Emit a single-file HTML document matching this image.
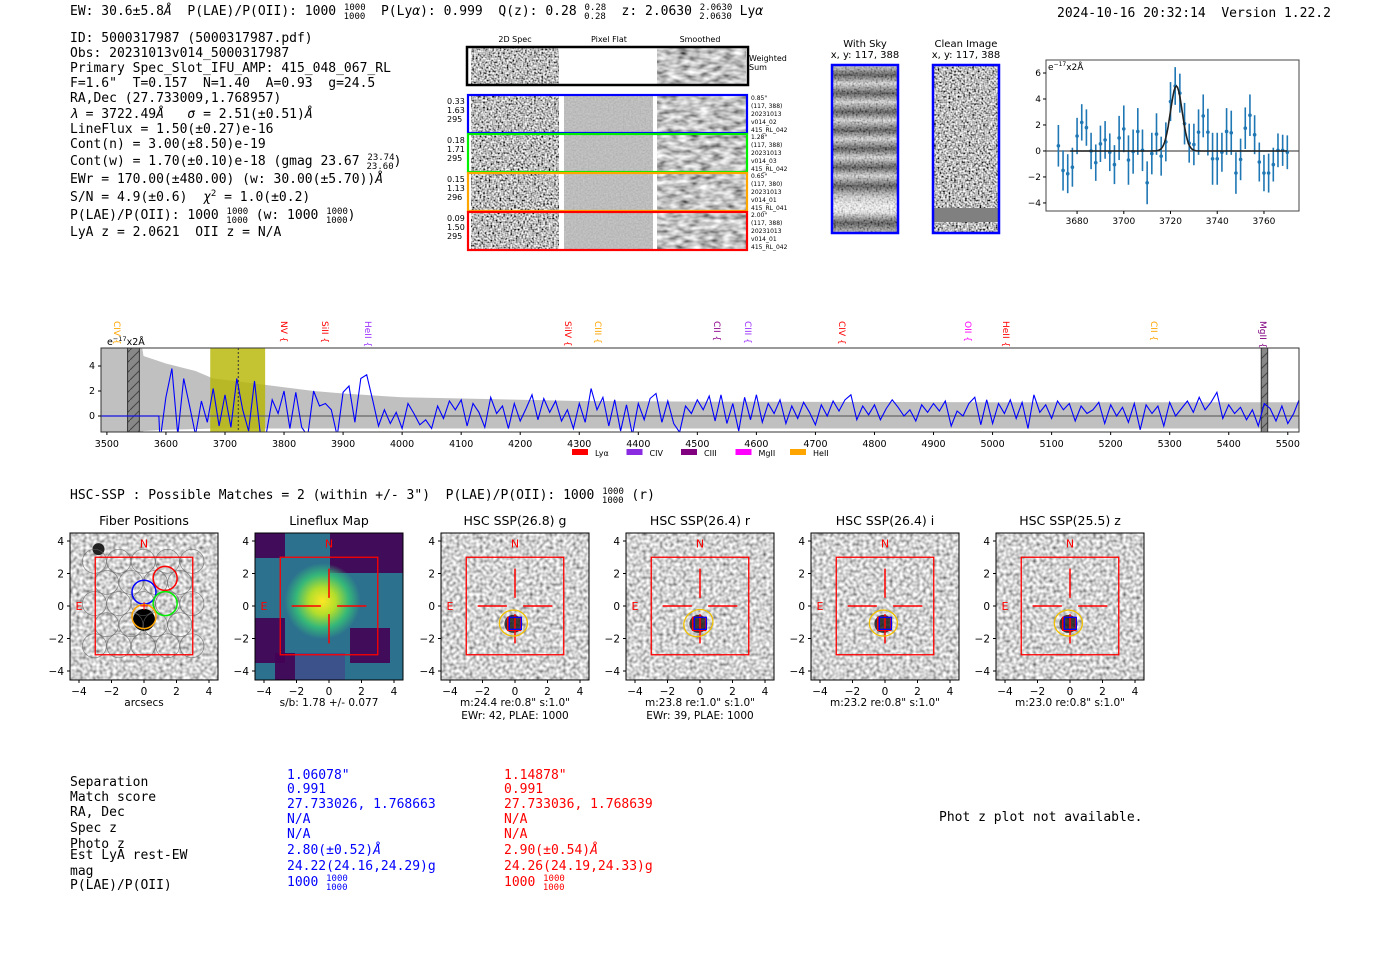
<!DOCTYPE html>
<html><head><meta charset="utf-8"><style>
body{margin:0;background:#fff;}
svg{display:block;}
.m{font-family:"DejaVu Sans Mono","Liberation Mono",monospace;font-size:13px;fill:#000;white-space:pre;}
.s{font-family:"DejaVu Sans","Liberation Sans",sans-serif;}
</style></head><body>
<svg id="root" xmlns="http://www.w3.org/2000/svg" xml:space="preserve" width="1400" height="953" viewBox="0 0 1400 953">
<defs>
<filter id="nz" x="0" y="0" width="1" height="1"><feTurbulence type="fractalNoise" baseFrequency="0.55" numOctaves="1" seed="3"/><feColorMatrix type="matrix" values="2.2 0 0 0 -0.6 2.2 0 0 0 -0.6 2.2 0 0 0 -0.6 0 0 0 0 1"/></filter>
<filter id="nzs" x="0" y="0" width="1" height="1"><feTurbulence type="fractalNoise" baseFrequency="0.09 0.2" numOctaves="2" seed="5"/><feColorMatrix type="matrix" values="1.4 0 0 0 -0.15 1.4 0 0 0 -0.15 1.4 0 0 0 -0.15 0 0 0 0 1"/></filter>
<filter id="nzh" x="0" y="0" width="1" height="1"><feTurbulence type="fractalNoise" baseFrequency="0.3" numOctaves="1" seed="8"/><feColorMatrix type="matrix" values="1.5 0 0 0 -0.1 1.5 0 0 0 -0.1 1.5 0 0 0 -0.1 0 0 0 0 1"/></filter>
<filter id="nzf" x="0" y="0" width="1" height="1"><feTurbulence type="fractalNoise" baseFrequency="0.6" numOctaves="1" seed="11"/><feColorMatrix type="matrix" values="0.25 0 0 0 0.38 0.25 0 0 0 0.38 0.25 0 0 0 0.38 0 0 0 0 1"/></filter>
<linearGradient id="sky" x1="0" y1="0" x2="0" y2="1">
<stop offset="0" stop-color="#ddd"/><stop offset="0.06" stop-color="#333"/><stop offset="0.11" stop-color="#ddd"/><stop offset="0.17" stop-color="#333"/><stop offset="0.22" stop-color="#ddd"/><stop offset="0.28" stop-color="#333"/><stop offset="0.33" stop-color="#ddd"/><stop offset="0.39" stop-color="#333"/><stop offset="0.44" stop-color="#ddd"/><stop offset="0.5" stop-color="#333"/><stop offset="0.55" stop-color="#ddd"/><stop offset="0.61" stop-color="#333"/><stop offset="0.66" stop-color="#ddd"/><stop offset="0.72" stop-color="#333"/><stop offset="0.78" stop-color="#ccc"/><stop offset="0.84" stop-color="#fff"/><stop offset="0.88" stop-color="#eee"/><stop offset="0.94" stop-color="#333"/><stop offset="1" stop-color="#bbb"/>
</linearGradient>
<radialGradient id="lfc" cx="0.5" cy="0.5" r="0.5"><stop offset="0" stop-color="#fde725"/><stop offset="0.35" stop-color="#b5de2b"/><stop offset="0.7" stop-color="#35b779"/><stop offset="1" stop-color="#35b779" stop-opacity="0"/></radialGradient>
<pattern id="hatch" width="10" height="10" patternUnits="userSpaceOnUse"><rect width="10" height="10" fill="#888"/><path d="M0 10 L10 0" stroke="#444" stroke-width="1"/></pattern>
<clipPath id="specclip"><rect x="101" y="348" width="1198" height="84"/></clipPath>
<clipPath id="emclip"><rect x="1046" y="60" width="253" height="151"/></clipPath>
</defs>

<text class="m" x="70" y="15">EW: 30.6±5.8<tspan font-style="italic">Å</tspan>  P(LAE)/P(OII): 1000 <tspan font-size="9" dy="-5">1000</tspan><tspan font-size="9" dx="-22" dy="9">1000</tspan><tspan dy="-4">  P(Ly</tspan><tspan font-style="italic">α</tspan>): 0.999  Q(z): 0.28 <tspan font-size="9" dy="-5">0.28</tspan><tspan font-size="9" dx="-22" dy="9">0.28</tspan><tspan dy="-4">  z: 2.0630 </tspan><tspan font-size="9" dy="-5">2.0630</tspan><tspan font-size="9" dx="-33" dy="9">2.0630</tspan><tspan dy="-4"> Ly</tspan><tspan font-style="italic">α</tspan></text>
<text class="m" x="1057" y="17">2024-10-16 20:32:14  Version 1.22.2</text>

<g>
<text class="m" x="70" y="42">ID: 5000317987 (5000317987.pdf)</text>
<text class="m" x="70" y="57">Obs: 20231013v014_5000317987</text>
<text class="m" x="70" y="72">Primary Spec_Slot_IFU_AMP: 415_048_067_RL</text>
<text class="m" x="70" y="87">F=1.6"  T=0.157  N=1.40  A=0.93  g=24.5</text>
<text class="m" x="70" y="102">RA,Dec (27.733009,1.768957)</text>
<text class="m" x="70" y="118"><tspan font-style="italic">λ</tspan> = 3722.49<tspan font-style="italic">Å</tspan>   <tspan font-style="italic">σ</tspan> = 2.51(±0.51)<tspan font-style="italic">Å</tspan></text>
<text class="m" x="70" y="133">LineFlux = 1.50(±0.27)e-16</text>
<text class="m" x="70" y="148">Cont(n) = 3.00(±8.50)e-19</text>
<text class="m" x="70" y="165">Cont(w) = 1.70(±0.10)e-18 (gmag 23.67 <tspan font-size="9" dy="-5">23.74</tspan><tspan font-size="9" dx="-28" dy="9">23.60</tspan><tspan dy="-4">)</tspan></text>
<text class="m" x="70" y="183">EWr = 170.00(±480.00) (w: 30.00(±5.70))<tspan font-style="italic">Å</tspan></text>
<text class="m" x="70" y="201">S/N = 4.9(±0.6)  <tspan font-style="italic">χ</tspan><tspan font-size="9" dy="-5">2</tspan><tspan dy="5"> = 1.0(±0.2)</tspan></text>
<text class="m" x="70" y="219">P(LAE)/P(OII): 1000 <tspan font-size="9" dy="-5">1000</tspan><tspan font-size="9" dx="-22" dy="9">1000</tspan><tspan dy="-4"> (w: 1000 </tspan><tspan font-size="9" dy="-5">1000</tspan><tspan font-size="9" dx="-22" dy="9">1000</tspan><tspan dy="-4">)</tspan></text>
<text class="m" x="70" y="236">LyA z = 2.0621  OII z = N/A</text>
</g>

<g>
<text class="s" font-size="8" x="515" y="42" text-anchor="middle">2D Spec</text>
<text class="s" font-size="8" x="609" y="42" text-anchor="middle">Pixel Flat</text>
<text class="s" font-size="8" x="700" y="42" text-anchor="middle">Smoothed</text>
<rect x="471" y="48" width="88" height="36" filter="url(#nz)"/>
<rect x="657" y="48" width="89" height="36" filter="url(#nzs)"/>
<rect x="467" y="47" width="281" height="38" fill="none" stroke="#000" stroke-width="2.5"/>
<text class="s" font-size="8" x="749" y="61">Weighted</text>
<text class="s" font-size="8" x="749" y="70">Sum</text>
</g>
<g id="rows"></g>

<g>
<text class="s" font-size="10" x="865" y="47" text-anchor="middle">With Sky</text>
<text class="s" font-size="10" x="865" y="58" text-anchor="middle">x, y: 117, 388</text>
<rect x="832" y="65" width="66" height="168" fill="url(#sky)"/>
<rect x="832" y="65" width="66" height="168" filter="url(#nz)" opacity="0.35"/>
<rect x="832" y="65" width="66" height="168" fill="none" stroke="#0000ff" stroke-width="2.5"/>
<text class="s" font-size="10" x="966" y="47" text-anchor="middle">Clean Image</text>
<text class="s" font-size="10" x="966" y="58" text-anchor="middle">x, y: 117, 388</text>
<rect x="933" y="65" width="66" height="168" filter="url(#nz)"/>
<rect x="933" y="208" width="66" height="14" fill="#808080"/>
<rect x="933" y="65" width="66" height="168" fill="none" stroke="#0000ff" stroke-width="2.5"/>
</g>

<g id="emplot"></g>
<g id="spec"></g>

<text class="m" x="70" y="499">HSC-SSP : Possible Matches = 2 (within +/- 3")  P(LAE)/P(OII): 1000 <tspan font-size="9" dy="-5">1000</tspan><tspan font-size="9" dx="-22" dy="9">1000</tspan><tspan dy="-4"> (r)</tspan></text>
<g id="panels"></g>

<g>
<text class="m" x="70" y="786">Separation</text>
<text class="m" x="70" y="801">Match score</text>
<text class="m" x="70" y="816">RA, Dec</text>
<text class="m" x="70" y="832">Spec z</text>
<text class="m" x="70" y="848">Photo z</text>
<text class="m" x="70" y="859">Est LyA rest-EW</text>
<text class="m" x="70" y="875">mag</text>
<text class="m" x="70" y="889">P(LAE)/P(OII)</text>
</g>
<g>
<text class="m" style="fill:#00f" x="287" y="779">1.06078"</text>
<text class="m" style="fill:#00f" x="287" y="793">0.991</text>
<text class="m" style="fill:#00f" x="287" y="808">27.733026, 1.768663</text>
<text class="m" style="fill:#00f" x="287" y="823">N/A</text>
<text class="m" style="fill:#00f" x="287" y="838">N/A</text>
<text class="m" style="fill:#00f" x="287" y="854">2.80(±0.52)<tspan font-style="italic">Å</tspan></text>
<text class="m" style="fill:#00f" x="287" y="870">24.22(24.16,24.29)g</text>
<text class="m" style="fill:#00f" x="287" y="886">1000 <tspan font-size="9" dy="-5">1000</tspan><tspan font-size="9" dx="-22" dy="9">1000</tspan></text>
</g>
<g>
<text class="m" style="fill:#f00" x="504" y="779">1.14878"</text>
<text class="m" style="fill:#f00" x="504" y="793">0.991</text>
<text class="m" style="fill:#f00" x="504" y="808">27.733036, 1.768639</text>
<text class="m" style="fill:#f00" x="504" y="823">N/A</text>
<text class="m" style="fill:#f00" x="504" y="838">N/A</text>
<text class="m" style="fill:#f00" x="504" y="854">2.90(±0.54)<tspan font-style="italic">Å</tspan></text>
<text class="m" style="fill:#f00" x="504" y="870">24.26(24.19,24.33)g</text>
<text class="m" style="fill:#f00" x="504" y="886">1000 <tspan font-size="9" dy="-5">1000</tspan><tspan font-size="9" dx="-22" dy="9">1000</tspan></text>
</g>
<text class="m" x="939" y="821">Phot z plot not available.</text>
</svg>

<script>
// ---------- emission line fit data ----------
const emWave = [3672,3674,3676,3678,3680,3682,3684,3686,3688,3690,3692,3694,3696,3698,3700,3702,3704,3706,3708,3710,3712,3714,3716,3718,3720,3722,3724,3726,3728,3730,3732,3734,3736,3738,3740,3742,3744,3746,3748,3750,3752,3754,3756,3758,3760,3762,3764,3766,3768,3770];
const emFlux = [0.4,-1.5,-1.75,-1.25,1.15,2.2,1.8,0,-0.9,0.55,0.85,-0.1,-1.05,1.0,1.7,-0.7,-0.05,1.5,0.05,-2.45,-0.2,1.3,-0.4,0.7,3.8,5.0,4.45,2.1,0.6,0.5,1.45,2.7,1.45,-0.6,-0.6,-0.1,1.5,1.4,-1.7,-0.65,1.75,2.75,1.25,-0.85,-1.7,-1.7,-1.05,0.05,0.05,-0.1];
const emErr = [1.6,1.55,1.5,1.5,1.4,1.4,1.4,1.4,1.4,1.4,1.45,1.45,1.5,1.7,1.8,1.9,1.7,1.8,1.6,1.65,1.6,1.6,1.5,1.5,1.5,1.45,1.5,1.6,1.5,1.6,1.75,1.65,1.8,2.0,2.0,1.5,1.8,1.7,1.6,1.6,1.6,1.6,1.5,1.5,1.4,1.5,1.3,1.3,1.2,1.3];
const fitParams = [3722.49, 2.51, 5.0];
const emXTicks = [3680,3700,3720,3740,3760];
const emYTicks = [-4,-2,0,2,4,6];

// ---------- full spectrum data ----------
const specStart = 3590, specStep = 10;
const specFlux = [-2,1.5,3.8,-1.5,3.0,0.8,-1.5,1.2,-0.5,2.2,-0.8,1.7,-0.9,3.0,0.5,-1.2,2.8,-1.5,-1.4,1.3,0.2,2.0,-1.0,1.9,-0.9,-1.6,2.0,0.8,1.0,0.5,-1.6,1.9,2.4,-0.5,3.0,3.3,1.3,-0.8,0.5,-0.6,0.3,-1.0,1.0,0.2,-0.7,-0.3,-1.0,0.8,-0.2,1.2,0.5,1.3,-0.8,1.0,0.3,-0.9,1.5,0.2,0.8,-1.0,1.0,-0.4,0.6,1.7,-0.3,1.4,0.3,1.2,-0.4,0.5,-1.0,1.0,-0.5,2.2,0.5,1.5,-0.8,1.3,-1.2,0.9,-1.5,1.0,-0.3,1.4,1.8,-0.5,1.2,-0.6,-1.3,0.8,0.2,1.3,0.5,1.6,-0.4,1.7,-0.6,1.0,-1.2,1.5,-0.3,1.7,-0.5,1.0,0.2,1.3,-0.6,0.8,-0.2,1.1,0.3,-0.7,0.9,0.0,1.2,0.4,1.3,1.7,-0.3,0.8,0.1,0.9,-0.3,0.6,1.3,0.7,0.0,0.5,-0.4,0.9,0.3,1.0,0.4,1.2,-0.8,0.4,0.0,1.0,1.5,-0.7,1.3,-0.6,1.0,0.2,1.3,-0.2,1.1,-1.0,1.7,0.3,0.9,-0.2,1.2,0.5,1.0,-0.4,0.8,0.2,0.5,1.1,-0.6,0.9,0.0,0.7,-0.5,1.0,-1.1,0.9,0.2,0.8,-0.8,1.1,0.0,0.6,1.2,0.3,1.5,0.5,1.1,1.9,-0.2,0.9,0.2,0.7,-0.3,0.5,-0.8,1.0,0.6,-0.4,0.8,-0.6,0.2,1.4];
const errWave = [3490,3558,3562,3600,3650,3680,3700,3750,3800,3850,3900,4000,4100,4200,4300,4500,5000,5520];
const errTop = [6,6,4.8,4.2,3.6,3.0,2.9,2.6,2.3,2.0,1.8,1.5,1.4,1.3,1.2,1.15,1.1,1.1];
const errBot = [-1.4,-1.4,-1.2,-1.1,-1.05,-1.0,-1.0,-1.0,-1.0,-1.0,-1.0,-1.0,-1.0,-1.0,-1.0,-1.0,-1.0,-1.0];
const specXTicks = [3500,3600,3700,3800,3900,4000,4100,4200,4300,4400,4500,4600,4700,4800,4900,5000,5100,5200,5300,5400,5500];
const specYTicks = [0,2,4];
const lineNames = ["CIV","NV","SiII","HeII","SiIV","CIII","CII","CIII","CIV","OII","HeII","CII","MgII"];
const lineWaves = [3517,3800,3869,3942,4281,4332,4533,4586,4745,4958,5023,5273,5458];
const lineColors = ["#ffa500","#ff0000","#ff0000","#9b30ff","#ff0000","#ffa500","#8b008b","#9b30ff","#ff0000","#ff00ff","#ff0000","#ffa500","#800080"];
const legendNames = ["Lyα","CIV","CIII","MgII","HeII"];
const legendColors = ["#ff0000","#8a2be2","#800080","#ff00ff","#ffa500"];

const NS="http://www.w3.org/2000/svg";
function mk(tag, attrs, parent){const e=document.createElementNS(NS,tag);for(const k in attrs)e.setAttribute(k,attrs[k]);parent.appendChild(e);return e;}

(function(){
 const g=document.getElementById('rows');
 const rowColors=["#0000ff","#00ee00","#ffa500","#ff0000"];
 const rowLeft=[["0.33","1.63","295"],["0.18","1.71","295"],["0.15","1.13","296"],["0.09","1.50","295"]];
 const rowRight=[['0.85"',"(117, 388)","20231013","v014_02","415_RL_042"],['1.28"',"(117, 388)","20231013","v014_03","415_RL_042"],['0.65"',"(117, 380)","20231013","v014_01","415_RL_041"],['2.00"',"(117, 388)","20231013","v014_01","415_RL_042"]];
 for(let i=0;i<4;i++){
  const y=95+i*39;
  const r=mk('g',{},g);
  
  
  mk('rect',{x:471,y:y+1,width:88,height:36,filter:'url(#nz)'},r);
  mk('rect',{x:564,y:y+1,width:89,height:36,filter:'url(#nzf)'},r);
  mk('rect',{x:657,y:y+1,width:89,height:36,filter:'url(#nzs)'},r);
  mk('rect',{x:468,y:y,width:279,height:38,fill:'none',stroke:rowColors[i],'stroke-width':2.2},r);
  rowLeft[i].forEach((t,j)=>{const e=mk('text',{x:447,y:y+9+j*9,'font-size':8,class:'s'},r);e.textContent=t;});
  rowRight[i].forEach((t,j)=>{const e=mk('text',{x:751,y:y+5+j*8,'font-size':6,class:'s'},r);e.textContent=t;});
 }
})();

(function(){
 const g=document.getElementById('emplot');
 const X0=1046,X1=1299,Y0=60,Y1=211, xmin=3666.7,xmax=3775,ymin=-4.62,ymax=7.0;
 const sx=v=>X0+(v-xmin)/(xmax-xmin)*(X1-X0);
 const sy=v=>Y1-(v-ymin)/(ymax-ymin)*(Y1-Y0);
 mk('rect',{x:X0,y:Y0,width:X1-X0,height:Y1-Y0,fill:'#fff'},g);
 const cg=mk('g',{'clip-path':'url(#emclip)'},g);
 mk('line',{x1:X0,x2:X1,y1:sy(0),y2:sy(0),stroke:'#555','stroke-width':1.2},cg);
 for(let i=0;i<emWave.length;i++){
  const l=mk('line',{x1:sx(emWave[i]),x2:sx(emWave[i]),y1:sy(emFlux[i]-emErr[i]),y2:sy(emFlux[i]+emErr[i]),stroke:'#1f77b4','stroke-width':1.6},cg);
  
  
  const c=mk('circle',{cx:sx(emWave[i]),cy:sy(emFlux[i]),r:1.8,fill:'#1f77b4'},cg);
  
  
 }
 let d='';
 for(let w=3677;w<=3770;w+=0.5){const f=fitParams[2]*Math.exp(-0.5*Math.pow((w-fitParams[0])/fitParams[1],2));d+=(d?'L':'M')+sx(w).toFixed(1)+' '+sy(f).toFixed(1);}
 const fit=mk('path',{d:d,fill:'none',stroke:'#222','stroke-width':1.6},cg);
 
 
 mk('rect',{x:X0,y:Y0,width:X1-X0,height:Y1-Y0,fill:'none',stroke:'#444','stroke-width':1},g);
 emXTicks.forEach(t=>{mk('line',{x1:sx(t),x2:sx(t),y1:Y1,y2:Y1+3,stroke:'#000'},g);const e=mk('text',{x:sx(t),y:Y1+13,'font-size':9,'text-anchor':'middle',class:'s'},g);e.textContent=t;});
 emYTicks.forEach(t=>{mk('line',{x1:X0-3,x2:X0,y1:sy(t),y2:sy(t),stroke:'#000'},g);const e=mk('text',{x:X0-5,y:sy(t)+3,'font-size':9,'text-anchor':'end',class:'s'},g);e.textContent=(t<0?'−':'')+Math.abs(t);});
 const u=mk('text',{x:X0+2,y:Y0+10,'font-size':9,class:'s'},g);u.innerHTML='e<tspan font-size="6" dy="-4">−17</tspan><tspan dy="4">x2Å</tspan>';
 
})();

(function(){
 const g=document.getElementById('spec');
 const X0=101,X1=1299,Y0=348,Y1=432,xmin=3490,xmax=5519,ymin=-1.28,ymax=5.44;
 const sx=v=>X0+(v-xmin)/(xmax-xmin)*(X1-X0);
 const sy=v=>Y1-(v-ymin)/(ymax-ymin)*(Y1-Y0);
 const cg=mk('g',{'clip-path':'url(#specclip)'},g);
 let d='';
 errWave.forEach((w,i)=>{d+=(i?'L':'M')+sx(w).toFixed(1)+' '+sy(errTop[i]).toFixed(1);});
 for(let i=errWave.length-1;i>=0;i--)d+='L'+sx(errWave[i]).toFixed(1)+' '+sy(errBot[i]).toFixed(1);
 const env=mk('path',{d:d+'Z',fill:'#c0c0c0'},cg);
 
 
 const yb=mk('rect',{x:sx(3675),y:Y0,width:sx(3768)-sx(3675),height:Y1-Y0,fill:'#b5b500',opacity:0.8},cg);
 
 
 const h1=mk('rect',{x:sx(3535),y:Y0,width:sx(3555)-sx(3535),height:Y1-Y0,fill:'url(#hatch)',stroke:'#333'},cg);
 
 
 const h2=mk('rect',{x:sx(5455),y:Y0,width:sx(5466)-sx(5455),height:Y1-Y0,fill:'url(#hatch)',stroke:'#333'},cg);
 
 
 mk('line',{x1:X0,x2:X1,y1:sy(0),y2:sy(0),stroke:'#666','stroke-width':1.2},cg);
 mk('line',{x1:sx(3722.5),x2:sx(3722.5),y1:Y0,y2:Y1,stroke:'#333','stroke-dasharray':'2 2'},cg);
 let p='M'+sx(xmin)+' '+sy(0)+'L'+sx(specStart-2)+' '+sy(0);
 specFlux.forEach((f,i)=>{p+='L'+sx(specStart+i*specStep).toFixed(1)+' '+sy(f).toFixed(1);});
 const ln=mk('path',{d:p,fill:'none',stroke:'#0000ff','stroke-width':1.1},cg);
 
 
 mk('rect',{x:X0,y:Y0,width:X1-X0,height:Y1-Y0,fill:'none',stroke:'#333','stroke-width':1},g);
 specXTicks.forEach(t=>{mk('line',{x1:sx(t),x2:sx(t),y1:Y1,y2:Y1+3,stroke:'#000'},g);const e=mk('text',{x:sx(t),y:Y1+15,'font-size':9.5,'text-anchor':'middle',class:'s'},g);e.textContent=t;});
 specYTicks.forEach(t=>{mk('line',{x1:X0-3,x2:X0,y1:sy(t),y2:sy(t),stroke:'#000'},g);const e=mk('text',{x:X0-6,y:sy(t)+3,'font-size':9.5,'text-anchor':'end',class:'s'},g);e.textContent=t;});
 const u=mk('text',{x:107,y:345,'font-size':9.5,class:'s'},g);u.innerHTML='e<tspan font-size="6.5" dy="-4">−17</tspan><tspan dy="4">x2Å</tspan>';
 
 lineNames.forEach((n,i)=>{
  const x=sx(lineWaves[i]);
  const t=mk('text',{x:0,y:0,'font-size':9,class:'s',style:'fill:'+lineColors[i],transform:'translate('+(x-3)+',321) rotate(90)'},g);
  t.textContent=n+'  {';
  
  
 });
 legendNames.forEach((n,i)=>{
  const lx=572+i*54.5;
  const r=mk('rect',{x:lx,y:449,width:16,height:6,fill:legendColors[i]},g);
  
  
  const t=mk('text',{x:lx+23,y:456,'font-size':8,class:'s'},g);t.textContent=n;
  
  
 });
})();

(function(){
 const g=document.getElementById('panels');
 const titles=["Fiber Positions","Lineflux Map","HSC SSP(26.8) g","HSC SSP(26.4) r","HSC SSP(26.4) i","HSC SSP(25.5) z"];
 const xs=[70,255,441,626,811,996];
 const sub1=["arcsecs","s/b: 1.78 +/- 0.077",'m:24.4  re:0.8"  s:1.0"','m:23.8  re:1.0"  s:1.0"','m:23.2  re:0.8"  s:1.0"','m:23.0  re:0.8"  s:1.0"'];
 const sub2=["","","EWr: 42, PLAE: 1000","EWr: 39, PLAE: 1000","",""];
 const ticks=[-4,-2,0,2,4];
 xs.forEach((x0,k)=>{
  const y0=533,W=148,H=147,S=16.25;
  const cx=x0+74,cy=y0+73;
  const px=v=>cx+v*S, py=v=>cy-v*S;
  const pg=mk('g',{},g);
  
  
  if(k===1){
   mk('rect',{x:x0,y:y0,width:W,height:H,fill:'#2c728e'},pg);
   [[x0+75,y0,73,40],[x0,y0+85,30,45],[x0+20,y0+120,60,27],[x0+95,y0+95,40,35],[x0,y0,30,25]].forEach(b=>mk('rect',{x:b[0],y:b[1],width:b[2],height:b[3],fill:'#440154',opacity:0.9},pg));
   mk('rect',{x:x0+40,y:y0+120,width:50,height:27,fill:'#3b528b'},pg);
   mk('circle',{cx:px(-0.4),cy:py(0.3),r:38,fill:'url(#lfc)'},pg);
  } else {
   mk('rect',{x:x0,y:y0,width:W,height:H,filter:'url(#nzh)'},pg);
  }
  if(k===0){
   mk('circle',{cx:px(0),cy:py(-0.85),r:11,fill:'#000'},pg);
   mk('circle',{cx:px(-2.8),cy:py(3.5),r:6,fill:'#222'},pg);
   for(let r=-3;r<=3;r++)for(let c=-3;c<=3;c++){const xx=c*1.5+(Math.abs(r)%2?0.75:0)-0.05,yy=r*1.3+0.15;if(Math.abs(xx)<3.4&&Math.abs(yy)<3.6)mk('circle',{cx:px(xx),cy:py(yy),r:12,fill:'none',stroke:'#666','stroke-width':0.7,opacity:0.8},pg);}
   [[0,0.85,'#0000ff'],[1.3,1.7,'#ff0000'],[1.3,0.15,'#00ee00'],[0,-0.65,'#ffa500']].forEach(f=>mk('circle',{cx:px(f[0]),cy:py(f[1]),r:12,fill:'none',stroke:f[2],'stroke-width':1.5},pg));
   const pl=mk('text',{x:px(0),y:py(0)+4,'font-size':12,'text-anchor':'middle',class:'s',style:'fill:#f00'},pg);pl.textContent='+';
  }
  if(k>=2){
   mk('circle',{cx:px(-0.1),cy:py(-1.1),r:9,fill:'#111',opacity:0.8},pg);
   mk('line',{x1:px(0),x2:px(0),y1:py(-0.5),y2:py(-2.3),stroke:'#f00','stroke-width':1.5},pg);
   mk('rect',{x:px(-0.45),y:py(-0.7),width:13,height:13,fill:'none',stroke:'#f00','stroke-width':1.3},pg);
   mk('rect',{x:px(-0.35),y:py(-0.7),width:12,height:12,fill:'none',stroke:'#00f','stroke-width':1.3},pg);
   const rr=k===3?[15,13,-30]:[14,13,0];
   mk('ellipse',{cx:px(-0.1),cy:py(-1.05),rx:rr[0],ry:rr[1],fill:'none',stroke:'#f0c000','stroke-width':1.3,transform:'rotate('+rr[2]+' '+px(-0.1)+' '+py(-1.05)+')'},pg);
  }
  mk('rect',{x:px(-3),y:py(3),width:6*S,height:6*S,fill:'none',stroke:'#f00','stroke-width':1.3},pg);
  if(k>=1){
   mk('line',{x1:px(-2.3),x2:px(-0.5),y1:cy,y2:cy,stroke:'#f00','stroke-width':1.5},pg);
   mk('line',{x1:px(0.5),x2:px(2.3),y1:cy,y2:cy,stroke:'#f00','stroke-width':1.5},pg);
   mk('line',{x1:cx,x2:cx,y1:py(2.3),y2:py(0.5),stroke:'#f00','stroke-width':1.5},pg);
   if(k===1)mk('line',{x1:cx,x2:cx,y1:py(-0.5),y2:py(-2.3),stroke:'#f00','stroke-width':1.5},pg);
  }
  const n=mk('text',{x:px(0),y:py(3.6),'font-size':11,'text-anchor':'middle',class:'s',style:'fill:#f00'},pg);n.textContent='N';
  const e=mk('text',{x:px(-4),y:cy+4,'font-size':11,'text-anchor':'middle',class:'s',style:'fill:#f00'},pg);e.textContent='E';
  mk('rect',{x:x0,y:y0,width:W,height:H,fill:'none',stroke:'#000','stroke-width':1},pg);
  const tt=mk('text',{x:cx,y:y0-8,'font-size':12.5,'text-anchor':'middle',class:'s'},pg);tt.textContent=titles[k];
  
  
  ticks.forEach(t=>{
   mk('line',{x1:px(t),x2:px(t),y1:y0+H,y2:y0+H+3,stroke:'#000'},pg);
   const a=mk('text',{x:px(t),y:y0+H+15,'font-size':10.5,'text-anchor':'middle',class:'s'},pg);a.textContent=(t<0?'−':'')+Math.abs(t);
   
   
   mk('line',{x1:x0-3,x2:x0,y1:py(t),y2:py(t),stroke:'#000'},pg);
   const b=mk('text',{x:x0-6,y:py(t)+4,'font-size':10.5,'text-anchor':'end',class:'s'},pg);b.textContent=(t<0?'−':'')+Math.abs(t);
   
   
  });
  const s1=mk('text',{x:cx,y:y0+H+26,'font-size':10.5,'text-anchor':'middle',class:'s'},pg);s1.textContent=sub1[k];
  
  
  if(sub2[k]){const s2=mk('text',{x:cx,y:y0+H+39,'font-size':10.5,'text-anchor':'middle',class:'s'},pg);s2.textContent=sub2[k];
  
  }
 });
})();
</script>
</body></html>
